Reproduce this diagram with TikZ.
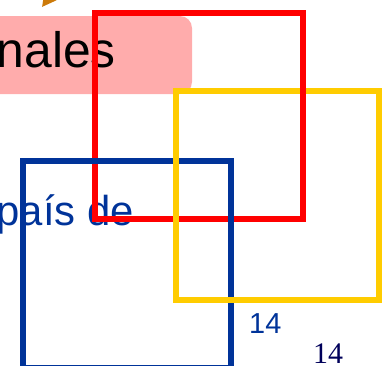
\documentclass[tikz,border=0pt]{standalone}
\usepackage{fontspec}
\setmainfont{Liberation Serif}
\setsansfont{Liberation Sans}
\usetikzlibrary{arrows.meta}
\definecolor{slidered}{RGB}{255,0,0}
\definecolor{slideyellow}{RGB}{255,204,0}
\definecolor{slideblue}{RGB}{0,51,153}
\definecolor{slidepink}{RGB}{255,172,172}
\definecolor{slideorange}{RGB}{204,122,10}
\definecolor{slidenavy}{RGB}{0,0,90}
\tikzset{
  framesq/.style={draw, line width=6bp, inner sep=0pt, outer sep=0pt},
  bigword/.style={font=\sffamily\fontsize{50}{58}\selectfont, inner sep=0pt},
  pagenum/.style={inner sep=0pt, anchor=base west}
}

\begin{document}
\begin{tikzpicture}[x=1bp, y=-1bp]
  \useasboundingbox (0, 0) rectangle (382, 366);

  % Box and texts
  \node (pinkbox) at (86, 55) [fill=slidepink, rounded corners=12bp, minimum width=212bp, minimum height=78bp, inner sep=0pt] {};
  \node (nales) at (116, 67) [bigword, anchor=base east] {nales};
  \node (paisde) at (134, 225) [bigword, anchor=base east, text=slideblue, font=\sffamily\fontsize{42}{50}\selectfont] {país de};

  % Squares
  \node (redsq) at (199.25, 115.75) [framesq, slidered, minimum width=207.5bp, minimum height=206.5bp] {};
  \node (bluesq) at (127.25, 264.5) [framesq, slideblue, minimum width=207.5bp, minimum height=207bp] {};
  \node (yellowsq) at (277.5, 195.25) [framesq, slideyellow, minimum width=203bp, minimum height=208.5bp] {};
  \begin{scope}
    \clip (295, 84) rectangle (311, 98);
    \node (redsqtop) at (199.25, 115.75) [framesq, slidered, minimum width=207.5bp, minimum height=206.5bp] {};
  \end{scope}

  % Page numbers
  \node (numblue) at (249, 333) [pagenum, text=slideblue, font=\sffamily\fontsize{29}{34}\selectfont] {14};
  \node (numblack) at (313, 363) [pagenum, text=slidenavy, font=\rmfamily\fontsize{30}{36}\selectfont] {14};

  % Arrow
  \coordinate (arrowtail) at (70, -30);
  \coordinate (arrowtip) at (42, 7);
  \draw[slideorange, line width=3bp, -{Triangle[length=14bp, width=14bp]}] (arrowtail) -- (arrowtip);
\end{tikzpicture}
\end{document}
